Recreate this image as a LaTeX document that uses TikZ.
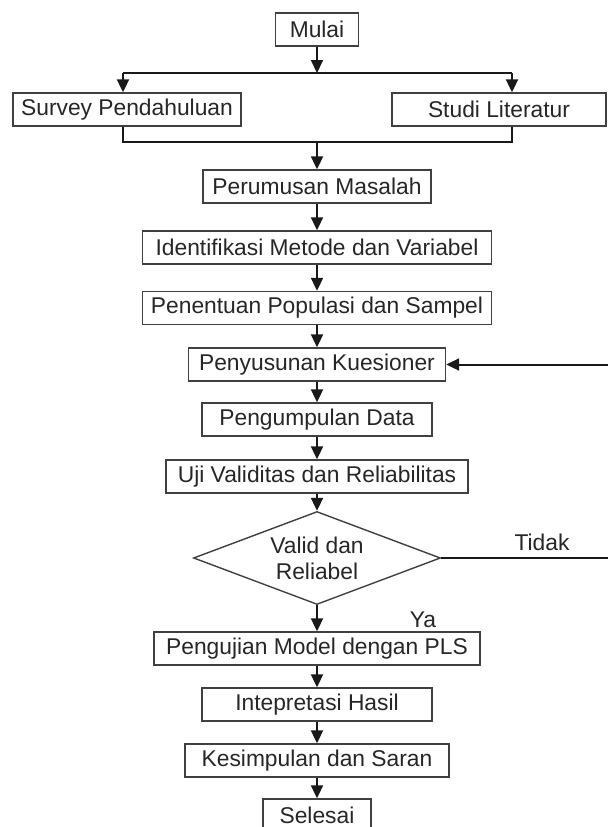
\documentclass[tikz,border=0pt]{standalone}
\usepackage{fontspec}
\setmainfont{Liberation Sans}
\usetikzlibrary{shapes.geometric, arrows.meta}

\begin{document}
\begin{tikzpicture}[x=0.5pt,y=-0.5pt,
    box/.style={draw=black!75, line width=0.7pt, minimum height=16.5pt, inner sep=0pt, text=black!85, font=\fontsize{11.4}{13}\selectfont},
    decision/.style={diamond, aspect=2.66, draw=black!75, line width=0.7pt, minimum width=123.5pt, minimum height=46.5pt, inner sep=0pt, align=center, text=black!85, font=\fontsize{11.4}{13}\selectfont},
    flow/.style={line width=1pt, black!90},
    arr/.style={flow, -{Triangle[length=6.5pt,width=6pt]}},
    lbl/.style={text=black!85, font=\fontsize{11.4}{13}\selectfont}]
      \useasboundingbox (0,0) rectangle (607,827);
      \node[box, minimum width=41.5pt] (mulai) at (317,29.5) {Mulai};
      \node[box, minimum width=114pt] (survey) at (127,109.5) {Survey Pendahuluan};
      \node[box, minimum width=107pt] (studi) at (499,109.5) {Studi Literatur};
      \node[box, minimum width=114pt] (perumusan) at (317,186.5) {Perumusan Masalah};
      \node[box, minimum width=174.5pt] (identifikasi) at (317,247.5) {Identifikasi Metode dan Variabel};
      \node[box, minimum width=174.5pt] (penentuan) at (317,308) {Penentuan Populasi dan Sampel};
      \node[box, minimum width=128.5pt] (penyusunan) at (317,364.5) {Penyusunan Kuesioner};
      \node[box, minimum width=115pt] (pengumpulan) at (317,419.5) {Pengumpulan Data};
      \node[box, minimum width=151pt] (uji) at (317,476.5) {Uji Validitas dan Reliabilitas};
      \node[decision] (cek) at (317,558) {Valid dan\\Reliabel};
      \node[box, minimum width=163pt] (pengujian) at (317,648.5) {Pengujian Model dengan PLS};
      \node[box, minimum width=115pt] (intepretasi) at (317,704.5) {Intepretasi Hasil};
      \node[box, minimum width=132pt] (kesimpulan) at (317,760.5) {Kesimpulan dan Saran};
      \node[box, minimum width=54pt] (selesai) at (317,815.5) {Selesai};
      \node[lbl] (tidak) at (542,542) {Tidak};
      \node[lbl] (ya) at (423,620) {Ya};

      \coordinate (split) at (317,73);
      \coordinate (splitL) at (123,73);
      \coordinate (splitR) at (512,73);
      \coordinate (join) at (317,142);
      \coordinate (joinL) at (123,142);
      \coordinate (joinR) at (512,142);
      \coordinate (loopB) at (612,558);
      \coordinate (loopT) at (612,364.5);

      \draw[arr] (mulai) -- (split);
      \draw[flow] (splitL) -- (splitR);
      \draw[arr] (splitL) -- (splitL |- survey.north);
      \draw[arr] (splitR) -- (splitR |- studi.north);
      \draw[flow] (joinL |- survey.south) -- (joinL) -- (joinR) -- (joinR |- studi.south);
      \draw[arr] (join) -- (perumusan);
      \draw[arr] (perumusan) -- (identifikasi);
      \draw[arr] (identifikasi) -- (penentuan);
      \draw[arr] (penentuan) -- (penyusunan);
      \draw[arr] (penyusunan) -- (pengumpulan);
      \draw[arr] (pengumpulan) -- (uji);
      \draw[arr] (uji) -- (cek);
      \draw[arr] (cek) -- (pengujian);
      \draw[arr] (pengujian) -- (intepretasi);
      \draw[arr] (intepretasi) -- (kesimpulan);
      \draw[arr] (kesimpulan) -- (selesai);
      \draw[arr] (cek.east) -- (loopB) -- (loopT) -- (penyusunan.east);
  \end{tikzpicture}
\end{document}
